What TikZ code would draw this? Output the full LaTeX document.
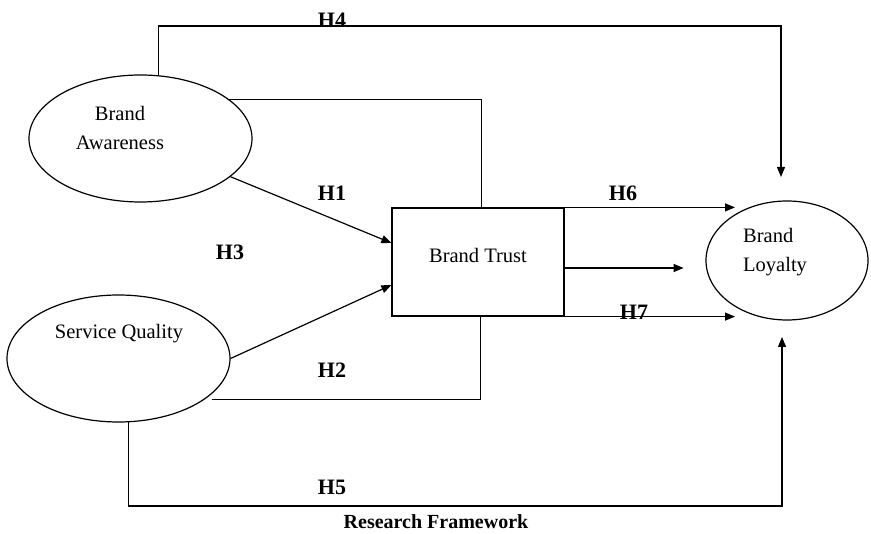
\documentclass[tikz,border=0pt]{standalone}
\usepackage{fontspec}
\setmainfont{Liberation Serif}
\usetikzlibrary{shapes.geometric,arrows.meta,calc}
\begin{document}
\begin{tikzpicture}[x=1pt,y=-1pt,
  conn/.style={line width=1.2pt},
  arr/.style={conn,-{Triangle[length=10pt,width=8pt]}},
  oval/.style={draw,ellipse,line width=1.2pt,inner sep=0pt},
  txt/.style={font=\fontsize{20.5}{29}\selectfont,align=center,inner sep=0pt},
  hlab/.style={font=\fontsize{22}{26}\selectfont\bfseries,inner sep=0pt}]
\useasboundingbox (0,0) rectangle (871,534);
% nodes
\node[oval,minimum width=223pt,minimum height=127pt] (ba) at (140.5,138.5) {};
\node[txt] (batxt) at (120,127.5) {Brand\\Awareness};
\node[oval,minimum width=223pt,minimum height=127pt] (sq) at (118.5,358.5) {};
\node[txt] (sqtxt) at (119,334) {Service Quality};
\node[draw,line width=1.2pt,minimum width=172pt,minimum height=108pt,inner sep=0pt] (bt) at (478,262) {};
\node[txt] (bttxt) at (478,255) {Brand Trust};
\node[oval,minimum width=162pt,minimum height=119pt] (bl) at (787,260.5) {};
\node[txt,align=left,anchor=west] (bltxt) at (743,252) {Brand\\Loyalty};
\coordinate (blT) at (781,177);
\coordinate (blB) at (782,337);
% connectors
\draw[arr] (ba.74.4) -- (ba.74.4 |- 0,26) -| (blT);
\draw[conn] (ba.24.3) -| ($(bt.north west)+(90,0)$);
\draw[arr] (ba.-23) -- ($(bt.west)+(0,-19)$);
\draw[arr] (sq.east) -- ($(bt.west)+(0,23)$);
\draw[conn] ($(sq.-24)+(5,2)$) -| ($(bt.south west)+(89,0)$);
\draw[arr] (sq.-81) -- (sq.-81 |- 0,506) -| (blB);
\draw[arr] (bt.north east) -- (bt.north east -| 735,0);
\draw[arr] ($(bt.east)+(0,6)$) -- ($(bt.east)+(119,6)$);
\draw[arr] (bt.south east) -- (bt.south east -| 735,0);
% labels
\node[hlab] (h4) at (332,20) {H4};
\node[hlab] (h1) at (332,193) {H1};
\node[hlab] (h3) at (230,252) {H3};
\node[hlab] (h6) at (623,193) {H6};
\node[hlab] (h7) at (634,312) {H7};
\node[hlab] (h2) at (332,370) {H2};
\node[hlab] (h5) at (332,487) {H5};
\node[font=\fontsize{20}{24}\selectfont\bfseries,inner sep=0pt] (title) at (436,522) {Research Framework};
\end{tikzpicture}
\end{document}
